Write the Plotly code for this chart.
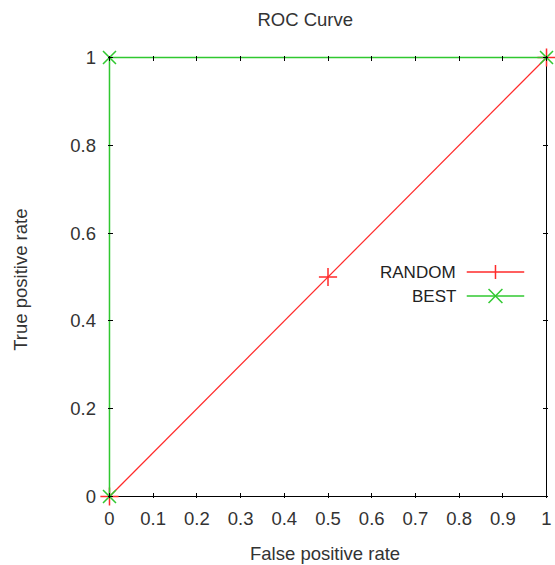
import plotly.graph_objects as go

random_x = [0, 0.5, 1]
random_y = [0, 0.5, 1]
best_x = [0, 0, 1]
best_y = [0, 1, 1]
x_ticks = [0, 0.1, 0.2, 0.3, 0.4, 0.5, 0.6, 0.7, 0.8, 0.9, 1]
y_ticks = [0, 0.2, 0.4, 0.6, 0.8, 1]

RED = "#ff2a2a"
GREEN = "#30c830"
TXT = "#333333"
FONT = "Liberation Sans, Arial, sans-serif"
FS = 18.5

W, H = 555, 565
L, R, T, B = 108, 3, 56, 67          # plot area incl. small padding
pw, ph = W - L - R, H - T - B
PAD = 1.5                            # px padding so frame lines are not clipped
xr = [-PAD / (pw - 2 * PAD), 1 + PAD / (pw - 2 * PAD)]
yr = [-PAD / (ph - 2 * PAD), 1 + PAD / (ph - 2 * PAD)]

fig = go.Figure()
fig.add_trace(go.Scatter(x=random_x, y=random_y, mode="lines+markers", name="RANDOM",
                         line=dict(color=RED, width=1.2),
                         marker=dict(symbol="cross-thin", size=13, line=dict(color=RED, width=1.5)),
                         cliponaxis=False, showlegend=False))
fig.add_trace(go.Scatter(x=best_x, y=best_y, mode="lines+markers", name="BEST",
                         line=dict(color=GREEN, width=1.5),
                         marker=dict(symbol="x-thin", size=13, line=dict(color=GREEN, width=1.5)),
                         cliponaxis=False, showlegend=False))

def px(x):
    return (x - L) / pw

def py(y):
    return (H - B - y) / ph

shapes = [dict(type="rect", xref="x", yref="y", x0=0, x1=1, y0=0, y1=1,
               line=dict(color="black", width=1), fillcolor="rgba(0,0,0,0)", layer="below")]
annotations = []
entries = [("RANDOM", RED, 272, "plus"), ("BEST", GREEN, 296, "x")]
for name, col, yy, sym in entries:
    annotations.append(dict(text=name, x=px(461), y=py(yy), xref="paper", yref="paper",
                            xanchor="right", yanchor="middle", showarrow=False,
                            font=dict(family=FONT, size=17, color="#222222")))
    shapes.append(dict(type="line", xref="paper", yref="paper", x0=px(470), x1=px(528),
                       y0=py(yy), y1=py(yy), line=dict(color=col, width=1.5)))
    cx = 499
    if sym == "plus":
        shapes.append(dict(type="line", xref="paper", yref="paper", x0=px(cx), x1=px(cx),
                           y0=py(yy - 7), y1=py(yy + 7), line=dict(color=col, width=1.5)))
    else:
        shapes.append(dict(type="line", xref="paper", yref="paper", x0=px(cx - 7), x1=px(cx + 7),
                           y0=py(yy - 7), y1=py(yy + 7), line=dict(color=col, width=1.5)))
        shapes.append(dict(type="line", xref="paper", yref="paper", x0=px(cx - 7), x1=px(cx + 7),
                           y0=py(yy + 7), y1=py(yy - 7), line=dict(color=col, width=1.5)))

annotations.append(dict(text="False positive rate", x=px(327), y=py(553), xref="paper", yref="paper",
                        xanchor="center", yanchor="middle", showarrow=False,
                        font=dict(family=FONT, size=FS, color=TXT)))
annotations.append(dict(text="True positive rate", x=px(19), y=py(280), xref="paper", yref="paper",
                        xanchor="center", yanchor="middle", showarrow=False, textangle=-90,
                        font=dict(family=FONT, size=FS, color=TXT)))

axis_common = dict(showgrid=False, zeroline=False, showline=False,
                   mirror="allticks", ticks="inside", ticklen=5, tickcolor="black", tickwidth=1,
                   ticklabeloverflow="allow",
                   tickfont=dict(family=FONT, size=FS, color=TXT), fixedrange=True)

fig.update_layout(
    width=W, height=H,
    margin=dict(l=L, r=R, t=T, b=B),
    paper_bgcolor="white", plot_bgcolor="white",
    title=dict(text="ROC Curve", x=px(307), xref="paper", y=1 - 20 / H, yref="container",
               xanchor="center", yanchor="middle", font=dict(family=FONT, size=FS, color=TXT)),
    xaxis=dict(range=xr, tickvals=x_ticks, ticklabelstandoff=7, **axis_common),
    yaxis=dict(range=yr, tickvals=y_ticks, ticklabelstandoff=11, **axis_common),
    shapes=shapes, annotations=annotations,
    showlegend=False,
)

fig.write_html("out.html", config={"displayModeBar": False},
               post_script="document.body.style.margin='0';document.body.style.overflow='hidden';")
